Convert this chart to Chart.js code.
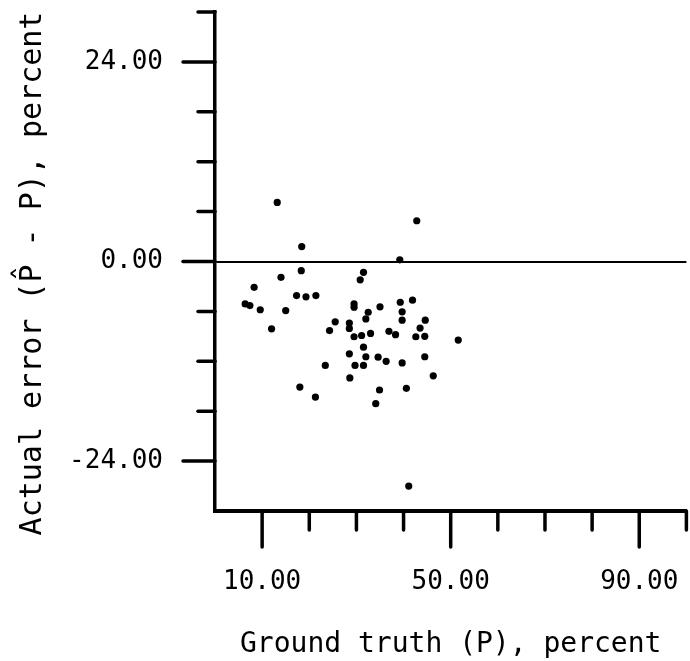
<!DOCTYPE html>
<html>
<head>
<meta charset="utf-8">
<script src="https://cdn.jsdelivr.net/npm/chart.js@4/dist/chart.umd.min.js"></script>
<style>
  html, body { margin: 0; padding: 0; background: #fff; }
  #wrap { width: 690px; height: 661px; }
</style>
</head>
<body>
<div id="wrap"><canvas id="c" width="690" height="661"></canvas></div>
<script>
// ---- data ----
const groundTruth = [13.2, 18.4, 42.8, 39.2, 18.3, 14.0, 31.5, 30.8, 8.3, 17.3,
  19.3, 21.4, 6.4, 7.4, 9.6, 15.0, 12.0, 29.5, 29.5, 32.5,
  32.0, 35.0, 39.3, 41.9, 39.7, 39.7, 44.6, 43.5, 25.5, 24.3,
  28.5, 28.5, 29.5, 31.1, 33.0, 36.9, 38.3, 42.6, 44.5, 51.6,
  31.5, 28.5, 32.0, 34.6, 36.3, 39.7, 44.5, 23.4, 29.7, 31.5,
  28.6, 46.3, 18.0, 21.3, 34.9, 40.6, 34.1, 41.1];
const actualError = [7.1, 1.8, 4.9, 0.2, -1.1, -1.9, -1.3, -2.2, -3.1, -4.1,
  -4.25, -4.1, -5.1, -5.3, -5.8, -5.9, -8.1, -5.1, -5.5, -6.1,
  -6.9, -5.45, -4.9, -4.65, -6.05, -7.05, -7.05, -8.0, -7.25, -8.3,
  -7.4, -8.05, -9.05, -8.9, -8.65, -8.4, -8.8, -9.05, -9.0, -9.45,
  -10.3, -11.1, -11.45, -11.5, -12.0, -12.2, -11.45, -12.5, -12.5, -12.5,
  -14.0, -13.75, -15.1, -16.3, -15.45, -15.25, -17.1, -27.0];

const xTickValues = [10, 20, 30, 40, 50, 60, 70, 80, 90, 100];
const xLabeledTicks = [10, 50, 90];
const yTickValues = [-24, -18, -12, -6, 0, 6, 12, 18, 24, 30];
const yLabeledTicks = [-24, 0, 24];

const xTitle = 'Ground truth (P), percent';
const yTitle = 'Actual error (P\u0302 - P), percent';

const points = groundTruth.map((x, i) => ({ x: x, y: actualError[i] }));
const FONT = "'DejaVu Sans Mono', 'Liberation Mono', monospace";

const tickMarks = {
  id: 'tickMarks',
  afterDraw(chart) {
    const ctx = chart.ctx;
    const xs = chart.scales.x, ys = chart.scales.y;
    const area = chart.chartArea;
    ctx.save();
    ctx.strokeStyle = '#000';
    ctx.lineWidth = 3.5;
    ctx.lineCap = 'round';
    xTickValues.forEach(v => {
      const px = xs.getPixelForValue(v);
      const len = xLabeledTicks.includes(v) ? 36 : 19;
      ctx.beginPath();
      ctx.moveTo(px, area.bottom);
      ctx.lineTo(px, area.bottom + len);
      ctx.stroke();
    });
    yTickValues.forEach(v => {
      const py = ys.getPixelForValue(v);
      const len = yLabeledTicks.includes(v) ? 32 : 17;
      ctx.beginPath();
      ctx.moveTo(area.left, py);
      ctx.lineTo(area.left - len, py);
      ctx.stroke();
    });
    // y axis title, rotated
    ctx.fillStyle = '#000';
    ctx.font = "30px " + FONT;
    ctx.textAlign = 'center';
    ctx.textBaseline = 'middle';
    ctx.translate(33, (area.top + area.bottom) / 2 + 12);
    ctx.rotate(-Math.PI / 2);
    ctx.fillText(yTitle, 0, 0);
    ctx.restore();
  }
};

new Chart(document.getElementById('c'), {
  type: 'scatter',
  data: {
    datasets: [{
      data: points,
      backgroundColor: '#000',
      borderColor: '#000',
      borderWidth: 0,
      pointRadius: 3.6,
      pointHoverRadius: 3.6
    }]
  },
  options: {
    responsive: false,
    animation: false,
    events: [],
    layout: { padding: { top: 12, right: 1, left: 0, bottom: 0 } },
    plugins: { legend: { display: false }, tooltip: { enabled: false } },
    scales: {
      x: {
        type: 'linear',
        min: 0, max: 100,
        afterFit: s => { s.height = 150; s.paddingLeft = 0; s.paddingRight = 0; },
        border: { display: true, color: '#000', width: 4 },
        grid: { display: true, drawOnChartArea: false, drawTicks: true, tickLength: 54, tickColor: 'rgba(0,0,0,0)', color: 'rgba(0,0,0,0)' },
        ticks: {
          stepSize: 10,
          padding: 2,
          color: '#000',
          font: { family: FONT, size: 26 },
          maxRotation: 0,
          autoSkip: false,
          callback: v => xLabeledTicks.includes(v) ? v.toFixed(2) : ''
        },
        title: {
          display: true,
          text: xTitle,
          color: '#000',
          font: { family: FONT, size: 28, lineHeight: 1 },
          padding: { top: 0, bottom: 2 }
        }
      },
      y: {
        type: 'linear',
        min: -30, max: 30,
        afterFit: s => { s.width = 215; s.paddingTop = 0; s.paddingBottom = 0; },
        border: { display: true, color: '#000', width: 3.5 },
        grid: {
          drawOnChartArea: true,
          drawTicks: true,
          tickLength: 50,
          tickColor: 'rgba(0,0,0,0)',
          lineWidth: 2,
          color: c => (c.tick && c.tick.value === 0) ? '#000' : 'rgba(0,0,0,0)'
        },
        ticks: {
          stepSize: 6,
          padding: 2,
          color: '#000',
          font: { family: FONT, size: 26 },
          autoSkip: false,
          callback: v => yLabeledTicks.includes(v) ? v.toFixed(2) : ''
        },
        title: { display: false }
      }
    }
  },
  plugins: [tickMarks]
});
</script>
</body>
</html>
